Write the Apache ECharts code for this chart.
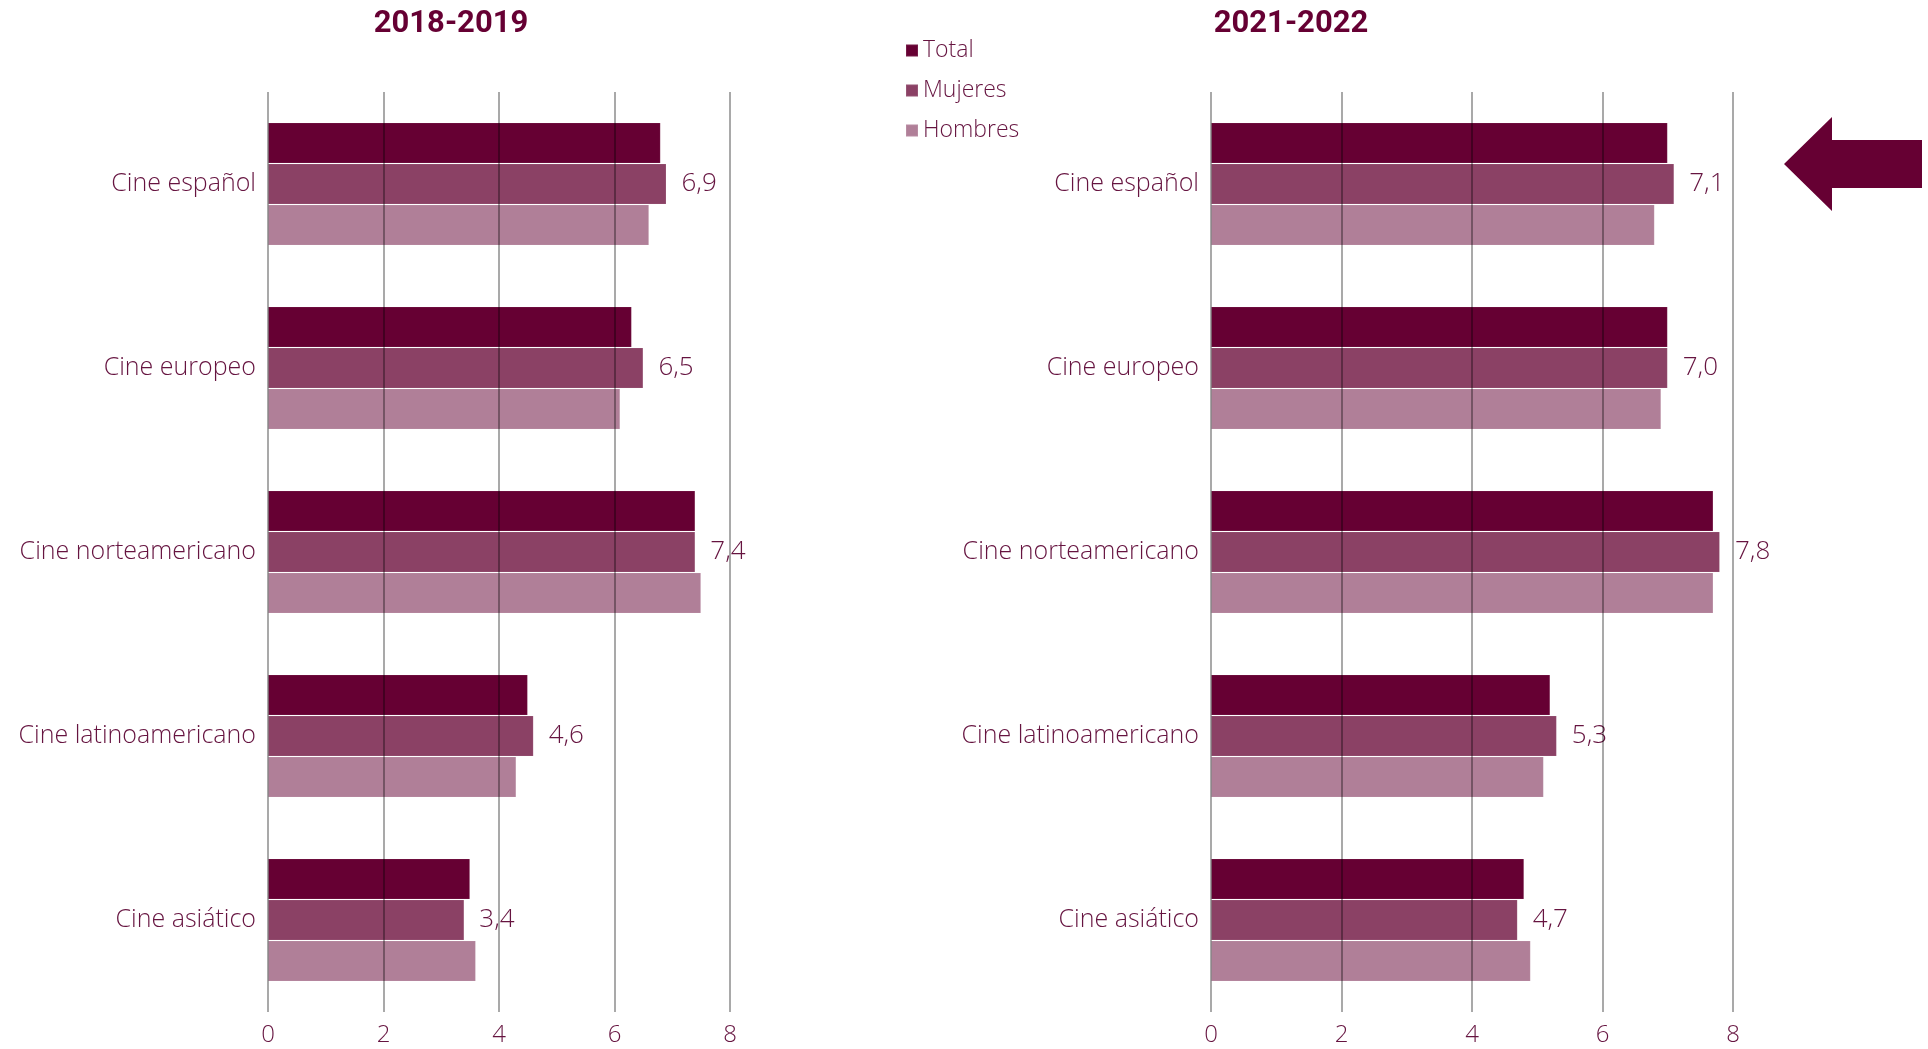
<!DOCTYPE html>
<html>
<head>
<meta charset="utf-8">
<script src="https://cdn.jsdelivr.net/npm/echarts@6/dist/echarts.min.js"></script>
<style>
  html, body { margin: 0; padding: 0; background: #fff; }
  #chart { width: 1928px; height: 1049px; }
</style>
</head>
<body>
<div id="chart"></div>
<script>
// categories and values
const categories = ['Cine español', 'Cine europeo', 'Cine norteamericano', 'Cine latinoamericano', 'Cine asiático'];
const seriesNames = ['Total', 'Mujeres', 'Hombres'];
const periods = ['2018-2019', '2021-2022'];
const xTicks = [0, 2, 4, 6, 8];

const total1819 = [6.8, 6.3, 7.4, 4.5, 3.5];
const mujeres1819 = [6.9, 6.5, 7.4, 4.6, 3.4];
const hombres1819 = [6.6, 6.1, 7.5, 4.3, 3.6];

const total2122 = [7.0, 7.0, 7.7, 5.2, 4.8];
const mujeres2122 = [7.1, 7.0, 7.8, 5.3, 4.7];
const hombres2122 = [6.8, 6.9, 7.7, 5.1, 4.9];

const colors = ['#660033', '#8b4165', '#b07f98'];
const textColor = '#661440';
const font = 'Open Sans';
const weight = 300;

const chart = echarts.init(document.getElementById('chart'));

function makeSeries(name, data, idx, gridIdx) {
    const s = {
        name: name,
        type: 'bar',
        xAxisIndex: gridIdx,
        yAxisIndex: gridIdx,
        data: data,
        barWidth: 41,
        barGap: '0%',
        itemStyle: {
            color: colors[idx],
            borderColor: 'rgba(255,255,255,0.1)',
            borderWidth: 1,
        },
        emphasis: { disabled: true },
        label: { show: false },
    };
    if (name === 'Mujeres') {
        s.label = {
            show: true,
            position: 'right',
            distance: 15,
            color: textColor,
            fontFamily: font,
            fontWeight: weight,
            fontSize: 26,
            formatter: (p) => p.value.toFixed(1).replace('.', ','),
        };
    }
    return s;
}

function makeXAxis(gridIdx) {
    return {
        type: 'value',
        gridIndex: gridIdx,
        min: xTicks[0],
        max: xTicks[xTicks.length - 1],
        interval: 2,
        z: 5,
        axisLine: { show: false },
        axisTick: { show: false },
        axisLabel: { color: textColor, fontFamily: font, fontWeight: weight, fontSize: 24, margin: 11 },
        splitLine: { show: true, lineStyle: { color: 'rgba(0,0,0,0.45)', width: 1.5 } },
    };
}

function makeYAxis(gridIdx) {
    return {
        type: 'category',
        gridIndex: gridIdx,
        data: categories,
        inverse: true,
        axisLine: { show: false },
        axisTick: { show: false },
        axisLabel: { color: textColor, fontFamily: font, fontWeight: weight, fontSize: 25, margin: 12 },
    };
}

const option = {
    backgroundColor: '#ffffff',
    animation: false,
    title: [
        {
            text: periods[0], left: 446, top: 4, textAlign: 'center',
            textStyle: { color: '#660033', fontFamily: 'Liberation Sans Narrow, Roboto', fontWeight: 'bold', fontSize: 31 },
        },
        {
            text: periods[1], left: 1286, top: 4, textAlign: 'center',
            textStyle: { color: '#660033', fontFamily: 'Liberation Sans Narrow, Roboto', fontWeight: 'bold', fontSize: 31 },
        },
    ],
    legend: {
        orient: 'vertical',
        left: 900,
        top: 34,
        itemWidth: 12,
        itemHeight: 12,
        itemGap: 17,
        icon: 'rect',
        data: seriesNames,
        textStyle: { color: textColor, fontFamily: font, fontWeight: weight, fontSize: 23 },
    },
    grid: [
        { left: 268, width: 462, top: 92, height: 920 },
        { left: 1211, width: 522, top: 92, height: 920 },
    ],
    xAxis: [makeXAxis(0), makeXAxis(1)],
    yAxis: [makeYAxis(0), makeYAxis(1)],
    series: [
        makeSeries('Total', total1819, 0, 0),
        makeSeries('Mujeres', mujeres1819, 1, 0),
        makeSeries('Hombres', hombres1819, 2, 0),
        makeSeries('Total', total2122, 0, 1),
        makeSeries('Mujeres', mujeres2122, 1, 1),
        makeSeries('Hombres', hombres2122, 2, 1),
    ],
    graphic: [
        {
            type: 'polygon',
            shape: {
                points: [[1784, 164], [1832, 117], [1832, 140], [1922, 140], [1922, 188], [1832, 188], [1832, 211]],
            },
            style: { fill: '#660033' },
        },
    ],
};

chart.setOption(option);
</script>
</body>
</html>
